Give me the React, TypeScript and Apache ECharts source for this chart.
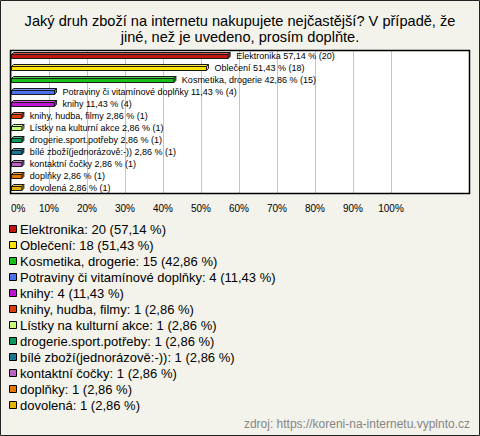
import React, { useEffect, useRef } from "react";
import * as echarts from "echarts";

const categories = [
  "Elektronika",
  "Oblečení",
  "Kosmetika, drogerie",
  "Potraviny či vitamínové doplňky",
  "knihy",
  "knihy, hudba, filmy",
  "Lístky na kulturní akce",
  "drogerie.sport.potřeby",
  "bílé zboží(jednorázově:-))",
  "kontaktní čočky",
  "doplňky",
  "dovolená",
];
const counts = [20, 18, 15, 4, 4, 1, 1, 1, 1, 1, 1, 1];
const percents = [57.14, 51.43, 42.86, 11.43, 11.43, 2.86, 2.86, 2.86, 2.86, 2.86, 2.86, 2.86];
const colors = [
  "#c4160e",
  "#ffe400",
  "#18c018",
  "#4a72ee",
  "#c014d4",
  "#e03c0a",
  "#c8fa78",
  "#0c9a5c",
  "#1a7890",
  "#b864c0",
  "#e67800",
  "#e6b400",
];
const titleLines = [
  "Jaký druh zboží na internetu nakupujete nejčastější? V případě, že",
  "jiné, než je uvedeno, prosím doplňte.",
];
const sourceText = "zdroj: https://koreni-na-internetu.vyplnto.cz";

const fmt = (v: number) => v.toFixed(2).replace(".", ",");
const FONT = "'Liberation Sans', Arial, sans-serif";

function lighten(hex: string, amt: number) {
  const n = parseInt(hex.slice(1), 16);
  const r = (n >> 16) & 255, g = (n >> 8) & 255, b = n & 255;
  const f = (c: number) => Math.round(c + (255 - c) * amt);
  return `rgb(${f(r)},${f(g)},${f(b)})`;
}

export default function App() {
  const ref = useRef<HTMLDivElement>(null);
  useEffect(() => {
    if (!ref.current) return;
    const chart = echarts.init(ref.current, undefined, { renderer: "svg" });
    const legendGraphics: any[] = [];
    categories.forEach((c, i) => {
      const y = 229 + i * 16;
      legendGraphics.push({
        type: "rect",
        shape: { x: 9.5, y: y - 3.5, width: 7, height: 7 },
        style: { fill: colors[i], stroke: "#000", lineWidth: 1 },
        z: 20,
      });
      legendGraphics.push({
        type: "text",
        x: 20,
        y,
        style: {
          text: `${c}: ${counts[i]} (${fmt(percents[i])} %)`,
          fontSize: 13,
          fontFamily: FONT,
          fill: "#000",
          verticalAlign: "middle",
          align: "left",
        },
        z: 20,
      });
    });
    const titleGraphics = titleLines.map((t, i) => ({
      type: "text",
      x: 240,
      y: 21 + i * 16,
      style: {
        text: t,
        fontSize: 14.6,
        fontFamily: FONT,
        fill: "#000",
        align: "center",
        verticalAlign: "middle",
      },
      z: 20,
    }));
    chart.setOption({
      animation: false,
      backgroundColor: "#f3f3eb",
      grid: { left: 11, top: 50, width: 380, height: 144, containLabel: false },
      xAxis: {
        type: "value",
        min: 0,
        max: 100,
        interval: 10,
        axisLine: { show: false },
        axisTick: { show: false },
        splitLine: { show: true, lineStyle: { color: "#c4c4c4", width: 1 } },
        axisLabel: {
          formatter: "{value}%",
          fontSize: 10,
          fontFamily: FONT,
          color: "#000",
          margin: 9,
          alignMinLabel: "left",
        },
      },
      yAxis: {
        type: "category",
        data: categories,
        inverse: true,
        show: false,
      },
      graphic: [
        {
          type: "rect",
          shape: { x: 0.5, y: 0.5, width: 479, height: 435 },
          style: { fill: "#f3f3eb", stroke: "#222", lineWidth: 1 },
          z: -20,
        },
        {
          type: "rect",
          shape: { x: 10.5, y: 50.5, width: 459, height: 143 },
          style: { fill: "#fff", stroke: null },
          z: -10,
        },
        {
          type: "rect",
          shape: { x: 10.5, y: 50.5, width: 459, height: 143 },
          style: { fill: null, stroke: "#000", lineWidth: 1.5 },
          z: 30,
        },
        ...titleGraphics,
        ...legendGraphics,
        {
          type: "text",
          x: 470,
          y: 424,
          style: {
            text: sourceText,
            fontSize: 12,
            fontFamily: FONT,
            fill: "#858585",
            align: "right",
            verticalAlign: "middle",
          },
          z: 20,
        },
      ],
      series: [
        {
          type: "custom",
          data: percents.map((p, i) => [p, categories[i]]),
          encode: { x: 0, y: 1 },
          z: 10,
          renderItem: (params: any, api: any) => {
            const i = params.dataIndex;
            const end = api.coord([api.value(0), i]);
            const start = api.coord([0, i]);
            const x0 = start[0] + 0.5;
            const x1 = end[0];
            const yc = Math.round(end[1]);
            const col = colors[i];
            const light = lighten(col, 0.25);
            const stroke = "#1a1a1a";
            return {
              type: "group",
              children: [
                {
                  type: "polygon",
                  shape: {
                    points: [
                      [x0, yc - 1.5],
                      [x0 + 2, yc - 3.5],
                      [x1 + 2, yc - 3.5],
                      [x1, yc - 1.5],
                    ],
                  },
                  style: { fill: light, stroke, lineWidth: 1 },
                },
                {
                  type: "polygon",
                  shape: {
                    points: [
                      [x1, yc - 1.5],
                      [x1 + 2, yc - 3.5],
                      [x1 + 2, yc + 0.5],
                      [x1, yc + 2.5],
                    ],
                  },
                  style: { fill: col, stroke, lineWidth: 1 },
                },
                {
                  type: "rect",
                  shape: { x: x0, y: yc - 1.5, width: x1 - x0, height: 4 },
                  style: { fill: col, stroke, lineWidth: 1 },
                },
                {
                  type: "text",
                  x: x1 + 8,
                  y: yc,
                  style: {
                    text: `${categories[i]} ${fmt(percents[i])} % (${counts[i]})`,
                    fontSize: 9,
                    fontFamily: FONT,
                    fill: "#000",
                    verticalAlign: "middle",
                    align: "left",
                  },
                },
              ],
            };
          },
        },
      ],
    });
    return () => chart.dispose();
  }, []);
  return (
    <div
      ref={ref}
      style={{ position: "absolute", left: 0, top: 0, width: 480, height: 436 }}
    />
  );
}
